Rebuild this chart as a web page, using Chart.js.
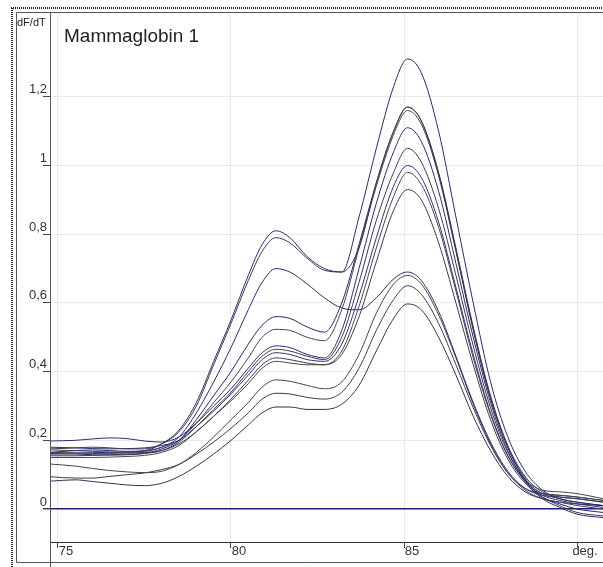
<!DOCTYPE html>
<html lang="en">
<head>
  <meta charset="UTF-8">
  <title>Mammaglobin 1</title>
  <script src="https://cdn.jsdelivr.net/npm/chart.js"></script>
  <style>
    html, body { margin: 0; padding: 0; background: #fff; }
  </style>
</head>
<body>
  <canvas id="meltChart" width="603" height="567"></canvas>

  <script>
    // temperatures (deg.) shared by every melt curve
    const temps = [74.77, 75.5, 76, 76.5, 77, 77.5, 78, 78.5, 79, 79.5, 80, 80.5, 80.9, 81.3, 81.7, 82.2, 82.7,
                   83.2, 83.7, 84.2, 84.7, 85.1, 85.5, 86, 86.5, 87, 87.5, 88, 88.5, 89, 89.5, 90, 90.75];

    // dF/dT per sample
    const s1  = [0.165, 0.17, 0.172, 0.17, 0.168, 0.17, 0.19, 0.23, 0.31, 0.43, 0.55, 0.68, 0.77, 0.81, 0.79, 0.735, 0.70,
                 0.69, 0.85, 1.05, 1.23, 1.31, 1.27, 1.10, 0.85, 0.60, 0.37, 0.21, 0.11, 0.055, 0.03, 0.02, 0.01];
    const s2  = [0.175, 0.178, 0.18, 0.178, 0.175, 0.175, 0.19, 0.225, 0.30, 0.42, 0.54, 0.665, 0.75, 0.79, 0.775, 0.73, 0.695,
                 0.69, 0.76, 0.95, 1.10, 1.17, 1.13, 0.98, 0.76, 0.53, 0.33, 0.185, 0.095, 0.05, 0.035, 0.03, 0.02];
    const s3  = [0.16, 0.16, 0.158, 0.157, 0.158, 0.162, 0.175, 0.20, 0.26, 0.33, 0.40, 0.48, 0.535, 0.56, 0.555, 0.53, 0.515,
                 0.60, 0.77, 0.95, 1.10, 1.17, 1.13, 0.975, 0.755, 0.525, 0.325, 0.18, 0.085, 0.035, 0.015, 0.0, -0.01];
    const s4  = [0.172, 0.17, 0.168, 0.166, 0.165, 0.168, 0.18, 0.20, 0.25, 0.31, 0.37, 0.44, 0.50, 0.523, 0.52, 0.50, 0.49,
                 0.58, 0.76, 0.94, 1.09, 1.16, 1.12, 0.97, 0.75, 0.52, 0.32, 0.18, 0.09, 0.045, 0.04, 0.035, 0.025];
    const s5  = [0.198, 0.20, 0.204, 0.207, 0.205, 0.198, 0.195, 0.21, 0.25, 0.30, 0.35, 0.41, 0.455, 0.475, 0.47, 0.45, 0.44,
                 0.52, 0.70, 0.89, 1.04, 1.11, 1.07, 0.925, 0.715, 0.50, 0.31, 0.17, 0.08, 0.03, 0.005, -0.015, -0.025];
    const s6  = [0.155, 0.155, 0.156, 0.158, 0.16, 0.162, 0.17, 0.195, 0.24, 0.29, 0.34, 0.40, 0.445, 0.465, 0.46, 0.445, 0.435,
                 0.50, 0.66, 0.84, 0.98, 1.05, 1.01, 0.875, 0.68, 0.475, 0.295, 0.165, 0.085, 0.045, 0.03, 0.02, 0.01];
    const s7  = [0.18, 0.178, 0.176, 0.175, 0.176, 0.178, 0.185, 0.20, 0.24, 0.285, 0.335, 0.39, 0.435, 0.455, 0.45, 0.435, 0.43,
                 0.48, 0.62, 0.79, 0.94, 1.00, 0.965, 0.835, 0.645, 0.45, 0.28, 0.155, 0.08, 0.04, 0.025, 0.015, 0.005];
    const s8  = [0.15, 0.15, 0.15, 0.151, 0.153, 0.156, 0.165, 0.185, 0.225, 0.27, 0.315, 0.365, 0.41, 0.43, 0.425, 0.42, 0.42,
                 0.46, 0.59, 0.76, 0.91, 0.98, 0.945, 0.82, 0.635, 0.44, 0.275, 0.155, 0.085, 0.055, 0.05, 0.045, 0.03];
    const s9  = [0.165, 0.163, 0.162, 0.162, 0.163, 0.165, 0.17, 0.19, 0.225, 0.27, 0.32, 0.375, 0.42, 0.44, 0.435, 0.425, 0.42,
                 0.45, 0.56, 0.72, 0.87, 0.93, 0.90, 0.775, 0.60, 0.42, 0.26, 0.145, 0.075, 0.035, 0.01, -0.01, -0.02];
    const s10 = [0.162, 0.163, 0.164, 0.165, 0.166, 0.168, 0.18, 0.21, 0.28, 0.37, 0.47, 0.58, 0.66, 0.70, 0.69, 0.655, 0.615,
                 0.585, 0.58, 0.615, 0.67, 0.69, 0.665, 0.575, 0.445, 0.31, 0.195, 0.11, 0.06, 0.04, 0.035, 0.03, 0.02];
    const s11 = [0.131, 0.125, 0.118, 0.112, 0.108, 0.106, 0.11, 0.13, 0.165, 0.21, 0.26, 0.31, 0.355, 0.376, 0.372, 0.36, 0.35,
                 0.37, 0.45, 0.57, 0.655, 0.68, 0.655, 0.565, 0.44, 0.305, 0.19, 0.105, 0.055, 0.03, 0.02, 0.01, 0.0];
    const s12 = [0.094, 0.09, 0.09, 0.095, 0.10, 0.105, 0.115, 0.13, 0.16, 0.195, 0.235, 0.28, 0.32, 0.337, 0.335, 0.325, 0.32,
                 0.34, 0.41, 0.52, 0.61, 0.65, 0.625, 0.54, 0.42, 0.295, 0.185, 0.105, 0.06, 0.045, 0.04, 0.035, 0.025];
    const s13 = [0.081, 0.085, 0.08, 0.075, 0.07, 0.068, 0.075, 0.095, 0.125, 0.16, 0.20, 0.245, 0.28, 0.297, 0.297, 0.29, 0.29,
                 0.305, 0.36, 0.46, 0.555, 0.597, 0.58, 0.50, 0.39, 0.27, 0.17, 0.095, 0.05, 0.03, 0.02, 0.015, 0.01];

    const samples = [s1, s2, s3, s4, s5, s6, s7, s8, s9, s10, s11, s12, s13];
    const lineColors = ['#2a2a78', '#3c3c4a', '#25256e', '#45454f', '#2a2a78', '#3c3c4a', '#30307a',
                        '#45454f', '#3c3c4a', '#2a2a78', '#45454f', '#3c3c4a', '#30305a'];

    const xTicks = [75, 80, 85, 90];
    const xTickLabels = ['75', '80', '85', 'deg.'];
    const yTicks = [0, 0.2, 0.4, 0.6, 0.8, 1, 1.2];

    const tickFont = { family: 'Arial, "Liberation Sans", sans-serif', size: 13 };

    // outer frame, y axis line, title and axis caption
    const framePlugin = {
      id: 'frame',
      afterDraw(chart) {
        const c = chart.ctx;
        const a = chart.chartArea;
        c.save();
        c.strokeStyle = '#222';
        c.lineWidth = 2;
        c.setLineDash([1, 1]);
        c.beginPath();
        c.moveTo(11, 8); c.lineTo(603, 8);
        c.moveTo(12, 8); c.lineTo(12, 567);
        c.stroke();
        c.setLineDash([]);
        c.strokeStyle = '#555';
        c.lineWidth = 1;
        c.beginPath();
        c.moveTo(16.5, 12.5); c.lineTo(603, 12.5);
        c.moveTo(16.5, 12.5); c.lineTo(16.5, 562.5); c.lineTo(603, 562.5);
        c.moveTo(a.left + 0.5, 12); c.lineTo(a.left + 0.5, 567);
        c.stroke();
        c.fillStyle = '#222';
        c.textBaseline = 'alphabetic';
        c.font = '19px Arial, "Liberation Sans", sans-serif';
        c.fillText('Mammaglobin 1', 64, 42);
        c.font = '11px Arial, "Liberation Sans", sans-serif';
        c.fillText('dF/dT', 17, 26);
        c.restore();
      }
    };

    const datasets = samples.map((s, i) => ({
      data: temps.map((t, k) => ({ x: t, y: s[k] })),
      borderColor: lineColors[i],
      borderWidth: 1,
      pointRadius: 0,
      cubicInterpolationMode: 'monotone',
      fill: false
    }));

    new Chart(document.getElementById('meltChart').getContext('2d'), {
      type: 'line',
      data: { datasets: datasets },
      options: {
        responsive: false,
        animation: false,
        layout: { padding: { top: 13, left: 0, right: 0, bottom: 0 } },
        plugins: { legend: { display: false }, tooltip: { enabled: false } },
        scales: {
          x: {
            type: 'linear',
            min: 74.77,
            max: 90.75,
            afterBuildTicks: s => { s.ticks = xTicks.map(v => ({ value: v })); },
            afterFit: s => { s.height = 25; },
            ticks: {
              autoSkip: false,
              maxRotation: 0,
              labelOffset: 8,
              padding: -4,
              color: '#333',
              font: tickFont,
              callback: (v, i) => xTickLabels[i]
            },
            grid: { color: '#eaeaea', lineWidth: 1, tickLength: 6, tickColor: '#444' },
            border: { color: '#333', width: 1 }
          },
          y: {
            min: -0.096,
            max: 1.444,
            afterBuildTicks: s => { s.ticks = yTicks.map(v => ({ value: v })); },
            afterFit: s => { s.width = 50; },
            ticks: {
              labelOffset: -7,
              padding: -4,
              color: '#333',
              font: tickFont,
              callback: v => String(v).replace('.', ',')
            },
            grid: {
              color: c => (c.tick && c.tick.value === 0) ? '#1f1f78' : '#eaeaea',
              lineWidth: c => (c.tick && c.tick.value === 0) ? 1.5 : 1,
              tickLength: 7,
              tickColor: '#444'
            },
            border: { color: '#555', width: 1 }
          }
        }
      },
      plugins: [framePlugin]
    });
  </script>
</body>
</html>
